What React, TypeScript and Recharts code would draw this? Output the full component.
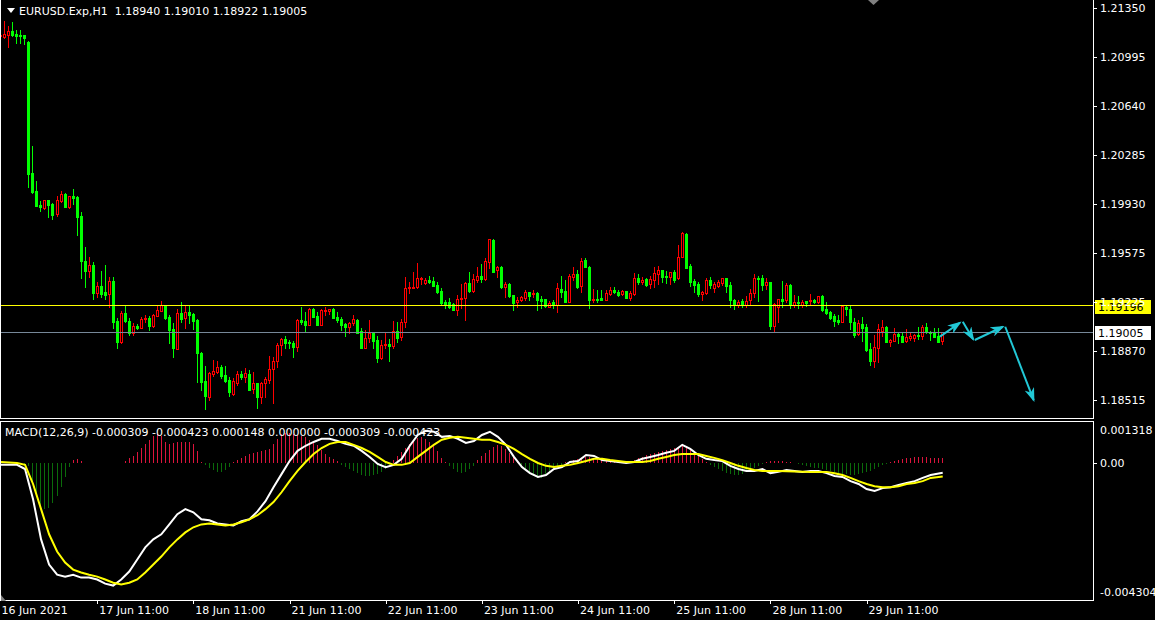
import React from 'react';
import { ComposedChart, Bar, Line, XAxis, YAxis, ReferenceLine } from 'recharts';

type Ohlc = [number, number, number, number];

// EURUSD H1 candles [open, high, low, close], one array per day, first bar 16 Jun 11:00
const jun16: Ohlc[] = [
  [1.21148, 1.21179, 1.21114, 1.21157], [1.21143, 1.21256, 1.21133, 1.21162], [1.21157, 1.2122, 1.2107, 1.21184],
  [1.21184, 1.21249, 1.21148, 1.21155], [1.21164, 1.21191, 1.21099, 1.2115], [1.21155, 1.21191, 1.21097, 1.2115],
  [1.21155, 1.21158, 1.2109, 1.21135], [1.21104, 1.21108, 1.20058, 1.2015], [1.20155, 1.20352, 1.20014, 1.20022],
  [1.20027, 1.20099, 1.19918, 1.1992], [1.19925, 1.19954, 1.19884, 1.19913], [1.19904, 1.19962, 1.19899, 1.19959],
  [1.19959, 1.19962, 1.19841, 1.19925],
];
const jun17: Ohlc[] = [
  [1.19933, 1.19942, 1.19822, 1.19853], [1.19862, 1.1999, 1.19846, 1.19962], [1.19954, 1.20024, 1.19949, 1.20005],
  [1.20005, 1.20014, 1.19911, 1.19913], [1.19911, 1.19993, 1.19906, 1.1999], [1.1999, 1.20041, 1.19935, 1.19976],
  [1.19985, 1.1999, 1.19708, 1.19841], [1.19846, 1.19873, 1.194, 1.19523], [1.19523, 1.19622, 1.19335, 1.1945],
  [1.1945, 1.19549, 1.19405, 1.19492], [1.19492, 1.19513, 1.19246, 1.19291], [1.19291, 1.19371, 1.19262, 1.19342],
  [1.19342, 1.19448, 1.19262, 1.19282], [1.19298, 1.19492, 1.19243, 1.19277], [1.1928, 1.19403, 1.1919, 1.19376],
  [1.19376, 1.19407, 1.19034, 1.19081], [1.19087, 1.19106, 1.18893, 1.18937], [1.18937, 1.19159, 1.1893, 1.19144],
  [1.19144, 1.19202, 1.19081, 1.19087], [1.19087, 1.19106, 1.18985, 1.19002], [1.19002, 1.19074, 1.18985, 1.1905],
  [1.1905, 1.19065, 1.19031, 1.19038], [1.19038, 1.19113, 1.19036, 1.19099], [1.19099, 1.19132, 1.19081, 1.19108],
];
const jun18: Ohlc[] = [
  [1.1911, 1.19123, 1.19021, 1.1905], [1.19053, 1.19137, 1.19045, 1.1913], [1.19125, 1.19195, 1.19123, 1.19166],
  [1.19161, 1.19231, 1.19159, 1.192], [1.19195, 1.19204, 1.19103, 1.1911], [1.19113, 1.1913, 1.1893, 1.19021],
  [1.19026, 1.19074, 1.18828, 1.18889], [1.18886, 1.19175, 1.18882, 1.19142], [1.19142, 1.19222, 1.19081, 1.19103],
  [1.19106, 1.19197, 1.19034, 1.19152], [1.19152, 1.19202, 1.1907, 1.19132], [1.19137, 1.19142, 1.19031, 1.19089],
  [1.19094, 1.19099, 1.18647, 1.18853], [1.18853, 1.18862, 1.18588, 1.18647], [1.18653, 1.18761, 1.18448, 1.18544],
  [1.18539, 1.1872, 1.18515, 1.18713], [1.18701, 1.18805, 1.18689, 1.18725], [1.1872, 1.18799, 1.18708, 1.18754],
  [1.18754, 1.18768, 1.18672, 1.18689], [1.18694, 1.18761, 1.18647, 1.18655], [1.1866, 1.18679, 1.18544, 1.18575],
  [1.18556, 1.18676, 1.18551, 1.18653], [1.18636, 1.18727, 1.18624, 1.18701], [1.18705, 1.18725, 1.18665, 1.18682],
];
const jun21: Ohlc[] = [
  [1.18684, 1.18745, 1.18647, 1.18708], [1.18703, 1.18732, 1.18585, 1.18588], [1.18593, 1.1872, 1.18568, 1.18636],
  [1.18636, 1.1864, 1.18455, 1.18539], [1.18539, 1.18647, 1.18496, 1.18636], [1.18636, 1.18684, 1.18539, 1.18667],
  [1.1866, 1.18833, 1.18636, 1.18737], [1.18737, 1.18826, 1.18491, 1.18797], [1.18797, 1.18925, 1.18756, 1.18913],
  [1.18913, 1.18961, 1.18841, 1.18954], [1.18954, 1.18978, 1.18889, 1.1893], [1.18933, 1.18949, 1.18889, 1.18925],
  [1.1893, 1.18942, 1.18828, 1.18901], [1.18901, 1.19099, 1.18872, 1.19094], [1.19094, 1.1919, 1.19065, 1.19079],
  [1.19087, 1.19154, 1.19016, 1.19058], [1.19058, 1.19178, 1.19055, 1.19173], [1.19173, 1.19178, 1.19118, 1.19118],
  [1.19123, 1.19149, 1.19058, 1.1906], [1.1906, 1.19171, 1.19058, 1.19164], [1.19161, 1.1919, 1.1913, 1.19166],
  [1.19159, 1.19173, 1.19135, 1.19171], [1.19171, 1.19178, 1.19106, 1.1911], [1.19115, 1.19154, 1.19081, 1.19092],
];
const jun22: Ohlc[] = [
  [1.19101, 1.19118, 1.19021, 1.19058], [1.19065, 1.1907, 1.18978, 1.19045], [1.19045, 1.19081, 1.19002, 1.1907],
  [1.19074, 1.1913, 1.19058, 1.19101], [1.19094, 1.19101, 1.18998, 1.19002], [1.19014, 1.19034, 1.18889, 1.18893],
  [1.18893, 1.19021, 1.1889, 1.18961], [1.18966, 1.19094, 1.18933, 1.19002], [1.19002, 1.19009, 1.18893, 1.18944],
  [1.18949, 1.18978, 1.18788, 1.18817], [1.18817, 1.18949, 1.18815, 1.18913], [1.18913, 1.19005, 1.18889, 1.18922],
  [1.18922, 1.18956, 1.18797, 1.18908], [1.18904, 1.19087, 1.18889, 1.19014], [1.19014, 1.19081, 1.18937, 1.18966],
  [1.18973, 1.19101, 1.18949, 1.19077], [1.19077, 1.19407, 1.19045, 1.19323], [1.19323, 1.19371, 1.19287, 1.19332],
  [1.19327, 1.19443, 1.19323, 1.19335], [1.19335, 1.19508, 1.19323, 1.19395], [1.19388, 1.19407, 1.19352, 1.194],
  [1.19363, 1.19395, 1.19354, 1.19383], [1.19383, 1.19414, 1.19359, 1.19369], [1.19378, 1.19407, 1.19338, 1.1934],
];
const jun23: Ohlc[] = [
  [1.19347, 1.19371, 1.19287, 1.19298], [1.19303, 1.19323, 1.19207, 1.19219], [1.19222, 1.19238, 1.19183, 1.19212],
  [1.19222, 1.19251, 1.19178, 1.1919], [1.19207, 1.19215, 1.19164, 1.19166], [1.19166, 1.19275, 1.1913, 1.19246],
  [1.19246, 1.19352, 1.19178, 1.19255], [1.19251, 1.19371, 1.19094, 1.19359], [1.19359, 1.19439, 1.19298, 1.19303],
  [1.19303, 1.19424, 1.19298, 1.1939], [1.19383, 1.19479, 1.19371, 1.19414], [1.19414, 1.19497, 1.19371, 1.19388],
  [1.19388, 1.1954, 1.19383, 1.1952], [1.19515, 1.1968, 1.19468, 1.19677], [1.19672, 1.1968, 1.1944, 1.19443],
  [1.19453, 1.19486, 1.19407, 1.19475], [1.19477, 1.19486, 1.19323, 1.19335], [1.19335, 1.19366, 1.19262, 1.19352],
  [1.19352, 1.19359, 1.19262, 1.19267], [1.19275, 1.19278, 1.19166, 1.19219], [1.19222, 1.19262, 1.1919, 1.19236],
  [1.19241, 1.1927, 1.19231, 1.19262], [1.19251, 1.19311, 1.19238, 1.19294], [1.19294, 1.19298, 1.19238, 1.1927],
];
const jun24: Ohlc[] = [
  [1.1928, 1.19311, 1.19262, 1.19291], [1.19287, 1.19298, 1.19166, 1.19238], [1.19246, 1.1927, 1.19183, 1.19231],
  [1.19246, 1.19249, 1.1919, 1.19192], [1.1919, 1.19231, 1.19188, 1.19217], [1.19226, 1.19238, 1.19178, 1.19202],
  [1.19202, 1.19359, 1.19149, 1.19327], [1.19318, 1.19414, 1.19262, 1.19294], [1.19303, 1.19383, 1.19222, 1.19226],
  [1.19226, 1.19424, 1.19222, 1.19414], [1.19407, 1.19479, 1.19383, 1.19424], [1.19424, 1.19455, 1.19323, 1.19335],
  [1.19342, 1.1954, 1.19294, 1.1952], [1.19528, 1.19542, 1.19477, 1.19479], [1.19477, 1.19481, 1.19178, 1.19238],
  [1.19241, 1.19318, 1.19226, 1.19246], [1.19246, 1.19311, 1.19226, 1.19238], [1.19255, 1.19311, 1.19238, 1.19241],
  [1.19241, 1.19311, 1.19238, 1.19287], [1.1928, 1.19335, 1.19275, 1.19309], [1.19311, 1.1933, 1.19287, 1.19294],
  [1.19298, 1.19311, 1.1927, 1.19275], [1.1928, 1.19311, 1.19275, 1.19303], [1.19303, 1.19305, 1.19251, 1.19255],
];
const jun25: Ohlc[] = [
  [1.19255, 1.19303, 1.19238, 1.19287], [1.19282, 1.19432, 1.19275, 1.19395], [1.194, 1.19424, 1.19352, 1.19366],
  [1.19371, 1.19407, 1.19352, 1.19383], [1.19388, 1.19395, 1.1934, 1.19347], [1.19352, 1.19412, 1.19327, 1.1939],
  [1.19383, 1.19479, 1.19335, 1.19436], [1.19426, 1.19484, 1.19352, 1.19455], [1.19455, 1.19457, 1.19366, 1.19407],
  [1.19414, 1.19448, 1.19363, 1.19407], [1.19407, 1.19443, 1.19352, 1.19439], [1.19439, 1.19455, 1.19371, 1.19383],
  [1.19395, 1.19636, 1.1939, 1.19552], [1.19552, 1.19732, 1.19549, 1.19723], [1.19714, 1.19725, 1.1947, 1.19472],
  [1.19484, 1.19497, 1.19342, 1.19371], [1.19376, 1.1939, 1.19298, 1.19347], [1.19352, 1.19366, 1.1927, 1.19284],
  [1.19284, 1.19303, 1.19238, 1.19296], [1.19287, 1.19395, 1.19285, 1.19383], [1.19383, 1.19407, 1.19323, 1.19347],
  [1.19327, 1.19366, 1.19298, 1.19352], [1.19342, 1.19383, 1.19335, 1.19371], [1.19363, 1.194, 1.19347, 1.19395],
];
const jun28: Ohlc[] = [
  [1.19395, 1.194, 1.19298, 1.19342], [1.19347, 1.19366, 1.1919, 1.19238], [1.19238, 1.19246, 1.19173, 1.19207],
  [1.19202, 1.19238, 1.1919, 1.19226], [1.19231, 1.19246, 1.1919, 1.19202], [1.19202, 1.1927, 1.1919, 1.19231],
  [1.19238, 1.19318, 1.19202, 1.19287], [1.19287, 1.19424, 1.19262, 1.194], [1.194, 1.19414, 1.19231, 1.1939],
  [1.194, 1.19419, 1.19311, 1.19347], [1.19347, 1.19395, 1.19318, 1.19371], [1.19366, 1.19371, 1.19029, 1.19053],
  [1.19053, 1.19215, 1.19005, 1.19207], [1.1919, 1.19246, 1.19081, 1.19243], [1.19246, 1.19376, 1.1919, 1.19231],
  [1.19238, 1.19359, 1.19222, 1.19347], [1.19347, 1.19352, 1.19183, 1.19202], [1.19202, 1.19275, 1.1919, 1.19222],
  [1.19226, 1.19267, 1.19178, 1.19215], [1.19202, 1.19238, 1.1919, 1.19226], [1.19231, 1.19233, 1.19197, 1.19215],
  [1.19231, 1.1928, 1.19207, 1.19238], [1.19238, 1.19246, 1.19215, 1.19222], [1.19226, 1.1927, 1.19215, 1.19267],
];
const jun29: Ohlc[] = [
  [1.19267, 1.19275, 1.19159, 1.19166], [1.19173, 1.19226, 1.19135, 1.19142], [1.19149, 1.19159, 1.19101, 1.1911],
  [1.19125, 1.19135, 1.19053, 1.19087], [1.19094, 1.1913, 1.19063, 1.19077], [1.19081, 1.19197, 1.19079, 1.19193],
  [1.1919, 1.19202, 1.1913, 1.19173], [1.19173, 1.19202, 1.19029, 1.19081], [1.19081, 1.19106, 1.18973, 1.18985],
  [1.1899, 1.19094, 1.18985, 1.1907], [1.19065, 1.19118, 1.18942, 1.19034], [1.19045, 1.19063, 1.1887, 1.18877],
  [1.18884, 1.18925, 1.18768, 1.18797], [1.18797, 1.18985, 1.18756, 1.18901], [1.18893, 1.19063, 1.18792, 1.19029],
  [1.19014, 1.19094, 1.1898, 1.19045], [1.19045, 1.19047, 1.18933, 1.18937], [1.18937, 1.18956, 1.18908, 1.18949],
  [1.18944, 1.19034, 1.18942, 1.1899], [1.1899, 1.18998, 1.18925, 1.1898], [1.18978, 1.19005, 1.18935, 1.18937],
  [1.18942, 1.19029, 1.18937, 1.18969], [1.18961, 1.18998, 1.18949, 1.1898], [1.18966, 1.1899, 1.18942, 1.18985],
];
const jun30: Ohlc[] = [
  [1.18985, 1.19045, 1.18956, 1.18978], [1.18978, 1.19058, 1.18956, 1.19041], [1.19041, 1.1907, 1.18998, 1.19005],
  [1.19009, 1.19014, 1.18949, 1.18998], [1.19009, 1.19034, 1.18971, 1.18973], [1.18978, 1.19034, 1.18933, 1.18937],
  [1.1894, 1.1901, 1.18922, 1.19005],
];

const priceTicks = [1.2135, 1.20995, 1.2064, 1.20285, 1.1993, 1.19575, 1.19225, 1.1887, 1.18515];
const timeLabels = [
  '16 Jun 2021', '17 Jun 11:00', '18 Jun 11:00', '21 Jun 11:00', '22 Jun 11:00',
  '23 Jun 11:00', '24 Jun 11:00', '25 Jun 11:00', '28 Jun 11:00', '29 Jun 11:00',
];
const levelPrice = 1.19196;
const bidPrice = 1.19005;

// MACD(12,26,9) histogram, one value per bar
const macdHist = [
  0, 0, 0, 0, 0, 0, -0.00003, -0.00009, -0.00057, -0.00101, -0.00133, -0.00145, -0.00142,
  -0.00126, -0.00104, -0.00076, -0.00044, -0.00013, 0.00009, 0.00013, 0.00006, 0, 0, 0, 0, 0, 0, 0, 0, 0, 0,
  0.00006, 0.00016, 0.00022, 0.00035, 0.00047, 0.0006,
  0.00073, 0.00085, 0.00092, 0.00085, 0.00066, 0.0006, 0.00063, 0.00066, 0.00066, 0.00066, 0.00066, 0.0006,
  0.00038, 0.00003, -0.00006, -0.00016, -0.00022, -0.00028, -0.00028, -0.00022, -0.00013, 0.00003, 0.00009, 0.00016,
  0.00022, 0.00028, 0.00032, 0.00035, 0.00038, 0.00041, 0.00044, 0.0006, 0.00076, 0.00092, 0.00095, 0.00095,
  0.00092, 0.00088, 0.00085, 0.00082, 0.00073, 0.00063, 0.00057, 0.00041, 0.00028, 0.00019, 0.00013, 0.00006,
  -0.00006, -0.00013, -0.00019, -0.00025, -0.00032, -0.00038, -0.00041, -0.00041, -0.00038, -0.00035, -0.00028, -0.00019,
  -0.00009, 0.00009, 0.00022, 0.00035, 0.00047, 0.0006, 0.00073, 0.00079, 0.00082, 0.00076, 0.00066, 0.00057,
  0.00038, 0.00016, 0.00003, -0.00009, -0.00019, -0.00028, -0.00032, -0.00028, -0.00019, -0.00009, 0.00009, 0.00022,
  0.00032, 0.00041, 0.00051, 0.00057, 0.00054, 0.00044, 0.00032, 0.00019, 0.00006, -0.00009, -0.00022, -0.00032,
  -0.00041, -0.00047, -0.00047, -0.00041, -0.00032, -0.00022, -0.00013, -0.00006, 0.00003, 0.00006, 0.00009, 0.00013,
  0.00016, 0.00019, 0.00019, 0.00016, 0.00013, 0.00009, 0.00006, 0.00003, 0.00003, 0, 0, 0.00003,
  0.00006, 0.00009, 0.00016, 0.00019, 0.00025, 0.00028, 0.00032, 0.00035, 0.00038, 0.00041, 0.00044, 0.00047,
  0.00051, 0.00054, 0.00051, 0.00041, 0.00032, 0.00022, 0.00013, 0.00003, -0.00006, -0.00013, -0.00019, -0.00025,
  -0.00032, -0.00035, -0.00038, -0.00038, -0.00035, -0.00028, -0.00022, -0.00016, -0.00009, -0.00003, 0.00003, 0.00006,
  0.00006, 0.00006, 0.00006, 0.00003, 0.00003, 0, -0.00003, -0.00006, -0.00009, -0.00013, -0.00016, -0.00016,
  -0.00019, -0.00022, -0.00025, -0.00028, -0.00032, -0.00035, -0.00035, -0.00038, -0.00038, -0.00035, -0.00032, -0.00028,
  -0.00025, -0.00019, -0.00013, -0.00006, -0.00003, 0.00003, 0.00006, 0.00009, 0.00013, 0.00016, 0.00016, 0.00019,
  0.00019, 0.00019, 0.00019, 0.00016, 0.00016, 0.00016, 0.000148,
];

// MACD main and signal lines, [bar index, value]
const macdMain: [number, number][] = [
  [0, -0.00006], [4, -0.00006], [6, -0.00019], [8, -0.00114], [10, -0.0024], [12, -0.00319], [14, -0.00351],
  [16, -0.00357], [18, -0.00351], [20, -0.0036], [22, -0.0036], [24, -0.00366], [26, -0.00379], [28, -0.00385],
  [30, -0.00366], [32, -0.00341], [34, -0.00303], [36, -0.00265], [38, -0.0024], [40, -0.00224], [42, -0.00193],
  [44, -0.00161], [46, -0.00145], [48, -0.00155], [50, -0.00177], [52, -0.0018], [54, -0.0019], [56, -0.00193],
  [58, -0.00196], [60, -0.00183], [62, -0.00177], [64, -0.00152], [66, -0.0012], [68, -0.00076], [70, -0.00035],
  [72, 0.00006], [74, 0.00038], [76, 0.00054], [78, 0.00066], [80, 0.00076], [82, 0.00076], [84, 0.00069],
  [86, 0.0006], [88, 0.00054], [90, 0.00038], [92, 0.00019], [94, -0.00003], [96, -0.00013], [98, -0.00006],
  [100, 0.00013], [102, 0.00054], [104, 0.00088], [106, 0.00101], [108, 0.00098], [110, 0.00082], [112, 0.00085],
  [114, 0.00076], [116, 0.00063], [118, 0.00069], [120, 0.00088], [122, 0.00098], [124, 0.00082], [126, 0.00057],
  [128, 0.00019], [130, -0.00013], [132, -0.00032], [134, -0.00044], [136, -0.00038], [138, -0.00019], [140, -0.00013],
  [142, 0.00003], [144, 0.00006], [146, 0.00025], [148, 0.00022], [150, 0.00009], [152, 0.00006], [154, 0.00003],
  [156, 0], [158, 0.00003], [160, 0.00013], [162, 0.00019], [164, 0.00025], [166, 0.00032], [168, 0.00038],
  [170, 0.00057], [172, 0.00044], [174, 0.00025], [176, 0.00013], [178, 0.00009], [180, 0.00006], [182, -0.00009],
  [184, -0.00019], [186, -0.00025], [188, -0.00025], [190, -0.00019], [192, -0.00032], [194, -0.00028], [196, -0.00022],
  [198, -0.00025], [200, -0.00028], [202, -0.00025], [204, -0.00025], [206, -0.00032], [208, -0.00041], [210, -0.00044],
  [212, -0.00057], [214, -0.00066], [216, -0.00082], [218, -0.00088], [220, -0.00079], [222, -0.00076], [224, -0.00069],
  [226, -0.00063], [228, -0.00057], [230, -0.00047], [232, -0.00038], [235, -0.000309],
];
const macdSignal: [number, number][] = [
  [0, 0.00003], [4, 0], [6, -0.00006], [8, -0.00066], [10, -0.00145], [12, -0.00224], [14, -0.00278],
  [16, -0.00313], [18, -0.00335], [20, -0.00344], [22, -0.00351], [24, -0.00357], [26, -0.00366], [28, -0.00376],
  [30, -0.00382], [32, -0.00376], [34, -0.00366], [36, -0.00344], [38, -0.00319], [40, -0.00294], [42, -0.00265],
  [44, -0.0024], [46, -0.00218], [48, -0.00202], [50, -0.00193], [52, -0.0019], [54, -0.00193], [56, -0.00196],
  [58, -0.00193], [60, -0.00186], [62, -0.00177], [64, -0.00164], [66, -0.00145], [68, -0.00123], [70, -0.00092],
  [72, -0.00057], [74, -0.00025], [76, 0.00003], [78, 0.00028], [80, 0.00047], [82, 0.0006], [84, 0.00066],
  [86, 0.00066], [88, 0.00057], [90, 0.00047], [92, 0.00035], [94, 0.00019], [96, 0.00003], [98, -0.00006],
  [100, -0.00006], [102, 0], [104, 0.00019], [106, 0.00038], [108, 0.00057], [110, 0.00073], [112, 0.00079],
  [114, 0.00082], [116, 0.00079], [118, 0.00076], [120, 0.00073], [122, 0.00073], [124, 0.00066], [126, 0.00057],
  [128, 0.00044], [130, 0.00028], [132, 0.00013], [134, 0], [136, -0.00009], [138, -0.00013], [140, -0.00009],
  [142, -0.00006], [144, 0], [146, 0.00006], [148, 0.00013], [150, 0.00013], [152, 0.00009], [154, 0.00006],
  [156, 0.00003], [158, 0.00003], [160, 0.00003], [162, 0.00006], [164, 0.00013], [166, 0.00019], [168, 0.00025],
  [170, 0.00028], [172, 0.00028], [174, 0.00028], [176, 0.00022], [178, 0.00016], [180, 0.00009], [182, 0],
  [184, -0.00009], [186, -0.00016], [188, -0.00022], [190, -0.00025], [194, -0.00025], [198, -0.00027], [202, -0.00028],
  [206, -0.00028], [208, -0.00032], [210, -0.00038], [212, -0.00047], [214, -0.00057], [216, -0.00066], [218, -0.00073],
  [220, -0.00076], [222, -0.00076], [224, -0.00073], [226, -0.00066], [228, -0.00063], [230, -0.00057], [232, -0.00047],
  [235, -0.000423],
];
const macdMax = 0.001318;
const macdMin = -0.004304;

// hand-drawn arrows: [bar from, price from, bar to, price to]
const arrowSegments: [number, number, number, number][] = [
  [234.3, 1.18973, 239.3, 1.19074],
  [240.0, 1.19081, 242.6, 1.18954],
  [243.0, 1.18949, 250.0, 1.19045],
  [250.6, 1.19045, 257.7, 1.18515],
];

const SLOTS = 273;
const BULL = '#ff0000';
const BEAR = '#00ff00';
const HIST_UP = '#dc143c';
const HIST_DOWN = '#0b6b0b';
const ARROW = '#22c8d6';
const FONT = "'DejaVu Sans', sans-serif";

const candles = [jun16, jun17, jun18, jun21, jun22, jun23, jun24, jun25, jun28, jun29, jun30].flat();
const rows = Array.from({ length: SLOTS }, (_, i) => {
  const c = candles[i];
  return c
    ? { i, o: c[0], h: c[1], l: c[2], c: c[3], range: [c[2], c[1]], hist: macdHist[i] }
    : { i };
});
const mainRows = macdMain.map(([x, v]) => ({ x, v }));
const signalRows = macdSignal.map(([x, v]) => ({ x, v }));

function Candle(props: any) {
  const { x, y, width, height, payload } = props;
  if (!payload || payload.o == null || y == null || isNaN(y) || height == null) return <g />;
  const top = Math.min(y, y + height);
  const span = Math.abs(height);
  const k = payload.h > payload.l ? span / (payload.h - payload.l) : 0;
  const cx = Math.floor(x + width / 2);
  const yo = top + (payload.h - payload.o) * k;
  const yc = top + (payload.h - payload.c) * k;
  const b0 = Math.round(Math.min(yo, yc));
  const b1 = Math.round(Math.max(yo, yc));
  const w0 = Math.round(top);
  const w1 = Math.round(top + span);
  const up = payload.c > payload.o;
  const color = up ? BULL : BEAR;
  let body;
  if (b1 - b0 < 1) body = <rect x={cx - 1} y={b0} width={3} height={1} fill={color} />;
  else if (up) body = <rect x={cx - 0.5} y={b0 + 0.5} width={2} height={b1 - b0} fill="#000" stroke={color} />;
  else body = <rect x={cx - 1} y={b0} width={3} height={b1 - b0 + 1} fill={color} />;
  return (
    <g shapeRendering="crispEdges">
      <line x1={cx + 0.5} x2={cx + 0.5} y1={w0} y2={w1 + 1} stroke={color} />
      {body}
    </g>
  );
}

function HistBar(props: any) {
  const { x, y, width, height, payload } = props;
  if (!payload || !payload.hist || y == null || isNaN(y)) return <g />;
  const top = Math.round(Math.min(y, y + height));
  const h = Math.max(1, Math.round(Math.abs(height)));
  const cx = Math.floor(x + width / 2);
  return (
    <rect x={cx} y={top} width={1} height={h} fill={payload.hist > 0 ? HIST_UP : HIST_DOWN} shapeRendering="crispEdges" />
  );
}

function PriceTick(props: any) {
  const { x, y, payload } = props;
  const ly = Math.round(y) + 0.5;
  return (
    <g>
      <line x1={x} x2={x + 4} y1={ly} y2={ly} stroke="#fff" />
      <text x={x + 7} y={y + 4} fontSize={11} fill="#fff" fontFamily={FONT}>
        {Number(payload.value).toFixed(5)}
      </text>
    </g>
  );
}

function MacdTick(props: any) {
  const { x, y, payload } = props;
  const v = payload.value;
  let text = '0.00';
  let dy = 4;
  if (v === macdMax) { text = macdMax.toFixed(6); dy = 13; }
  if (v === macdMin) { text = macdMin.toFixed(6); dy = -4; }
  const ly = Math.round(y) + 0.5;
  return (
    <g>
      {v === 0 && <line x1={x} x2={x + 4} y1={ly} y2={ly} stroke="#fff" />}
      <text x={x + 7} y={y + dy} fontSize={11} fill="#fff" fontFamily={FONT}>{text}</text>
    </g>
  );
}

function TimeTick(props: any) {
  const { x, y, payload } = props;
  const i = Number(payload.value);
  if (i % 24 !== 0) return <g />;
  const label = timeLabels[i / 24];
  if (!label) return <g />;
  const px = Math.round(x) + 0.5;
  return (
    <g>
      {i > 0 && <line x1={px} x2={px} y1={y} y2={y + 4} stroke="#fff" />}
      <text x={i > 0 ? x + 2 : x + 0.5} y={y + 14} fontSize={11} fill="#fff" fontFamily={FONT}>{label}</text>
    </g>
  );
}

function PriceTag(props: any) {
  const { viewBox, text, bg } = props;
  if (!viewBox) return <g />;
  const left = viewBox.x + viewBox.width + 2;
  const cy = Math.round(viewBox.y);
  return (
    <g>
      <rect x={left} y={cy - 6} width={56} height={14} fill={bg} />
      <text x={left + 3} y={cy + 5} fontSize={11} fill="#000" fontFamily={FONT}>{text}</text>
    </g>
  );
}

export default function App() {
  return (
    <div
      style={{
        position: 'fixed',
        left: 0,
        top: 0,
        width: 1155,
        height: 620,
        background: '#000',
        overflow: 'hidden',
        fontFamily: FONT,
      }}
    >
      <div style={{ position: 'absolute', left: -1, top: 0 }}>
        <ComposedChart width={1156} height={418} data={rows} margin={{ top: 0, right: 0, bottom: 0, left: 0 }}>
          <defs>
            <marker id="arrowHead" markerWidth={14} markerHeight={10} refX={12} refY={5} orient="auto" markerUnits="userSpaceOnUse">
              <path d="M0,0 L14,5 L0,10 L4,5 Z" fill={ARROW} />
            </marker>
          </defs>
          <XAxis dataKey="i" hide />
          <XAxis xAxisId="n" type="number" dataKey="x" domain={[-0.5, SLOTS - 0.5]} hide allowDataOverflow />
          <YAxis
            orientation="right"
            width={62}
            domain={[1.18385, 1.21408]}
            ticks={priceTicks}
            interval={0}
            tick={<PriceTick />}
            tickLine={false}
            axisLine={false}
            tickSize={0}
            tickMargin={0}
            allowDataOverflow
          />
          <Bar dataKey="range" shape={(p: any) => <Candle {...p} />} isAnimationActive={false} />
          <ReferenceLine
            y={levelPrice}
            stroke="#ffff00"
            shapeRendering="crispEdges"
            label={(p: any) => <PriceTag {...p} text={levelPrice.toFixed(5)} bg="#ffff00" />}
          />
          <ReferenceLine
            y={bidPrice}
            stroke="#778899"
            shapeRendering="crispEdges"
            label={(p: any) => <PriceTag {...p} text={bidPrice.toFixed(5)} bg="#ffffff" />}
          />
          {arrowSegments.map(([x1, p1, x2, p2], k) => (
            <Line
              key={`arrow-${k}`}
              xAxisId="n"
              data={[{ x: x1, p: p1 }, { x: x2, p: p2 }]}
              dataKey="p"
              type="linear"
              stroke={ARROW}
              strokeWidth={2}
              dot={false}
              activeDot={false}
              markerEnd="url(#arrowHead)"
              isAnimationActive={false}
            />
          ))}
        </ComposedChart>
      </div>

      <div style={{ position: 'absolute', left: -1, top: 421 }}>
        <ComposedChart width={1156} height={199} data={rows} margin={{ top: 0, right: 0, bottom: 0, left: 0 }}>
          <XAxis
            dataKey="i"
            height={20}
            interval={0}
            tick={<TimeTick />}
            tickLine={false}
            axisLine={false}
            tickSize={0}
            tickMargin={0}
          />
          <XAxis xAxisId="n" type="number" dataKey="x" domain={[-0.5, SLOTS - 0.5]} hide allowDataOverflow />
          <YAxis
            orientation="right"
            width={62}
            domain={[macdMin, macdMax]}
            ticks={[macdMax, 0, macdMin]}
            interval={0}
            tick={<MacdTick />}
            tickLine={false}
            axisLine={false}
            tickSize={0}
            tickMargin={0}
            allowDataOverflow
          />
          <Bar dataKey="hist" shape={(p: any) => <HistBar {...p} />} isAnimationActive={false} />
          <Line xAxisId="n" data={mainRows} dataKey="v" type="linear" stroke="#ffffff" strokeWidth={2} dot={false} activeDot={false} isAnimationActive={false} />
          <Line xAxisId="n" data={signalRows} dataKey="v" type="linear" stroke="#ffff00" strokeWidth={2} dot={false} activeDot={false} isAnimationActive={false} />
        </ComposedChart>
      </div>

      <div
        style={{
          position: 'absolute', left: 0, top: 0, width: 1094, height: 419, boxSizing: 'border-box',
          borderLeft: '1px solid #fff', borderRight: '1px solid #fff', borderBottom: '1px solid #fff', pointerEvents: 'none',
        }}
      />
      <div
        style={{
          position: 'absolute', left: 0, top: 421, width: 1094, height: 180, boxSizing: 'border-box',
          border: '1px solid #fff', pointerEvents: 'none',
        }}
      />

      <svg width={1155} height={620} style={{ position: 'absolute', left: 0, top: 0, pointerEvents: 'none' }}>
        <polygon points="7,8 15,8 11,13" fill="#fff" />
        <text x={19} y={15} fontSize={11} fill="#fff" fontFamily={FONT} style={{ whiteSpace: 'pre' }}>
          {'EURUSD.Exp,H1  1.18940 1.19010 1.18922 1.19005'}
        </text>
        <text x={5} y={436} fontSize={11} fill="#fff" fontFamily={FONT} style={{ whiteSpace: 'pre' }}>
          {'MACD(12,26,9) -0.000309 -0.000423 0.000148 0.000000 -0.000309 -0.000423'}
        </text>
        <polygon points="868,0 879,0 873.5,5" fill="#808080" />
        <polygon points="1,595 1,601 6,601" fill="#808080" />
      </svg>
    </div>
  );
}
